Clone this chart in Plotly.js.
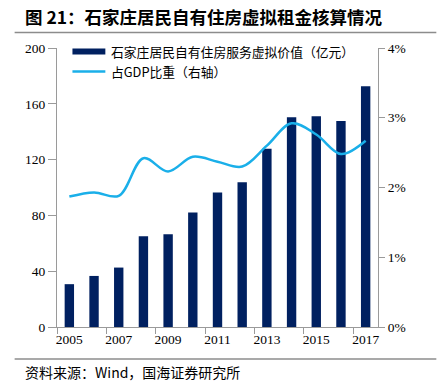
<!DOCTYPE html>
<html>
<head>
<meta charset="utf-8">
<script src="https://cdn.plot.ly/plotly-3.0.1.min.js"></script>
<style>html,body{margin:0;padding:0;background:#fff;}#chart{width:437px;height:385px;}</style>
</head>
<body>
<div id="chart"></div>
<script>
const years = [2005,2006,2007,2008,2009,2010,2011,2012,2013,2014,2015,2016,2017];
const rentValue = [30.7,36.6,42.6,65,66.5,82,96.5,103.7,127.8,150.3,151,147.7,172.5];
const gdpShare = [0.0187,0.0193,0.0188,0.0242,0.0223,0.0244,0.0237,0.0230,0.0260,0.0292,0.0276,0.0248,0.0267];
const xTickLabels = ['2005','2007','2009','2011','2013','2015','2017'];
const xTickVals = [2005,2007,2009,2011,2013,2015,2017];
const boundaryTicks = [2004.5,2006.5,2008.5,2010.5,2012.5,2014.5,2016.5];
const legendNames = ['石家庄居民自有住房服务虚拟价值（亿元）','占GDP比重（右轴）'];

const navy = '#002060';
const sky = '#1AAFE9';
const axisGray = '#9a9a9a';
const serif = 'Liberation Serif, Times New Roman, serif';
const cjk = 'Noto Sans CJK SC, sans-serif';

// plot area in px: x 56.5..378.5, y 47.5..327
const L = 56.5, R = 378.5, T = 47.5, B = 327;
const px = v => (v - L) / (R - L);
const py = v => (B - v) / (B - T);

const traces = [
  {type:'bar', x:years, y:rentValue, name:legendNames[0], marker:{color:navy}, width:0.38, showlegend:false, hoverinfo:'x+y'},
  {type:'scatter', mode:'lines', x:years, y:gdpShare, name:legendNames[1], yaxis:'y2',
   line:{color:sky, width:2.5, shape:'spline', smoothing:1}, showlegend:false}
];

const layout = {
  width:437, height:385,
  margin:{l:L, r:437-R, t:T, b:385-B, pad:0},
  paper_bgcolor:'#fff', plot_bgcolor:'#fff',
  title:{text:'图 21：石家庄居民自有住房虚拟租金核算情况', font:{family:cjk, size:17.5, color:'#000', weight:'bold'},
         xref:'container', yref:'container', x:25/437, xanchor:'left', y:1-18/385, yanchor:'middle'},
  xaxis:{type:'linear', range:[2004.5,2017.5], tickmode:'array', tickvals:xTickVals, ticktext:xTickLabels,
         ticks:'', showgrid:false, zeroline:false, showline:true, linecolor:axisGray, linewidth:1,
         tickfont:{family:serif, size:13.5, color:'#000'},
         minor:{tickmode:'array', tickvals:boundaryTicks, ticks:'outside', ticklen:6, tickcolor:axisGray, tickwidth:1, showgrid:false}},
  yaxis:{range:[0,200], dtick:40, tick0:0, ticks:'outside', ticklen:8, tickcolor:axisGray, showgrid:false, zeroline:false,
         showline:true, linecolor:axisGray, linewidth:1, tickfont:{family:serif, size:13.5, color:'#000'}},
  yaxis2:{range:[0,0.04], dtick:0.01, tick0:0, tickformat:'.0%', overlaying:'y', side:'right', ticks:'outside', ticklen:6,
          tickcolor:axisGray, showgrid:false, zeroline:false, showline:true, linecolor:axisGray, linewidth:1,
          tickfont:{family:serif, size:13.5, color:'#000'}},
  bargap:0.6,
  shapes:[
    {type:'line', xref:'paper', yref:'paper', x0:px(14), x1:px(437), y0:py(32), y1:py(32), line:{color:'#8c8c8c', width:1.5}},
    {type:'line', xref:'paper', yref:'paper', x0:px(14), x1:px(437), y0:py(359), y1:py(359), line:{color:'#8c8c8c', width:1.5}},
    {type:'rect', xref:'paper', yref:'paper', x0:px(72), x1:px(105), y0:py(54), y1:py(48), line:{width:0}, fillcolor:navy},
    {type:'line', xref:'paper', yref:'paper', x0:px(72), x1:px(105), y0:py(71), y1:py(71), line:{color:sky, width:2.5}}
  ],
  annotations:[
    {xref:'paper', yref:'paper', x:px(109), y:py(51), xanchor:'left', yanchor:'middle', showarrow:false,
     text:legendNames[0], font:{family:cjk, size:12.8, color:'#000'}},
    {xref:'paper', yref:'paper', x:px(109), y:py(71), xanchor:'left', yanchor:'middle', showarrow:false,
     text:legendNames[1], font:{family:cjk, size:12.8, color:'#000'}},
    {xref:'paper', yref:'paper', x:px(22), y:py(372), xanchor:'left', yanchor:'middle', showarrow:false,
     text:'资料来源：Wind，国海证券研究所', font:{family:cjk, size:14, color:'#000'}}
  ]
};

Plotly.newPlot('chart', traces, layout, {displayModeBar:false, staticPlot:true});
</script>
</body>
</html>
